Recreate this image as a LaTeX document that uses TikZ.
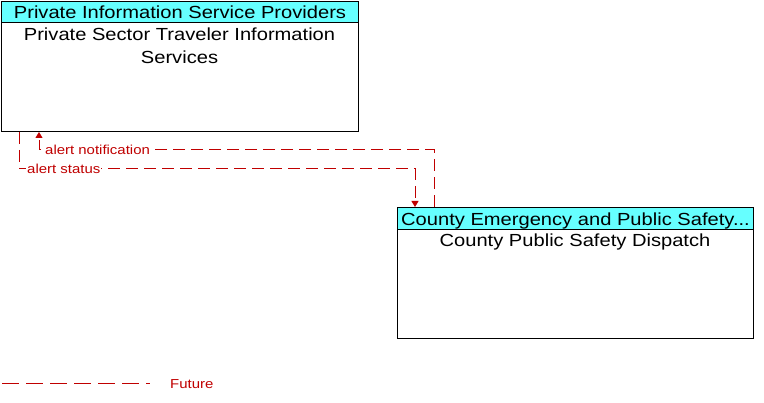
\documentclass[tikz,border=0pt]{standalone}
\usepackage{fontspec}
\setmainfont[FakeStretch=1.15]{Liberation Sans}
\usetikzlibrary{arrows.meta}
\definecolor{flowred}{RGB}{192,0,0}
\definecolor{hdrcyan}{RGB}{102,255,255}
\tikzset{
  boxbody/.style={draw=black, line width=1pt, fill=white, inner sep=0pt},
  boxhdr/.style={draw=black, line width=1pt, fill=hdrcyan, inner sep=0pt, text depth=0pt, font=\fontsize{17.5}{21}\selectfont},
  bodytext/.style={inner sep=0pt, align=center, font=\fontsize{17.5}{23}\selectfont},
  flow/.style={draw=flowred, line width=1pt, dash pattern=on 12pt off 6pt},
  flowarrow/.style={flow, -{Triangle[width=7pt,length=6pt]}},
  flowlabel/.style={text=flowred, fill=white, inner sep=1pt, font=\fontsize{13}{15}\selectfont},
}
\begin{document}
\begin{tikzpicture}[x=1pt,y=-1pt]
\useasboundingbox (0,0) rectangle (764,403);
% box 1
\node[boxbody, minimum width=357pt, minimum height=130pt, anchor=north west] (box1) at (1,1) {};
\node[boxhdr, text height=13.6pt, minimum width=357pt, minimum height=21pt, anchor=north west] (hdr1) at (1,1) {Private Information Service Providers};
\node[bodytext, anchor=north] (txt1) at (179.5,27.2) {Private Sector Traveler Information\\Services};
% box 2
\node[boxbody, minimum width=356pt, minimum height=131pt, anchor=north west] (box2) at (397,207) {};
\node[boxhdr, text height=15pt, minimum width=356pt, minimum height=22pt, anchor=north west] (hdr2) at (397,207) {County Emergency and Public Safety...};
\node[bodytext, anchor=base] (txt2) at (575,247) {County Public Safety Dispatch};
% flows
\coordinate (nturn) at (434,150);
\coordinate (sturn) at (19,169);
\draw[flowarrow] ([xshift=37pt]box2.north west) -- (nturn) -| ([xshift=38pt]box1.south west);
\draw[flowarrow] ([xshift=18pt]box1.south west) -- (sturn) -| ([xshift=18pt]box2.north west);
\node[flowlabel, anchor=west] (lbl1) at (44,150) {alert notification};
\node[flowlabel, anchor=west] (lbl2) at (26,169) {alert status};
% legend
\coordinate (lega) at (2,384);
\coordinate (legb) at (150,384);
\draw[flow, dash pattern=on 17pt off 7pt] (lega) -- (legb);
\node[text=flowred, anchor=west, inner sep=0pt, font=\fontsize{13}{15}\selectfont] (legt) at (170,384) {Future};
\end{tikzpicture}
\end{document}
